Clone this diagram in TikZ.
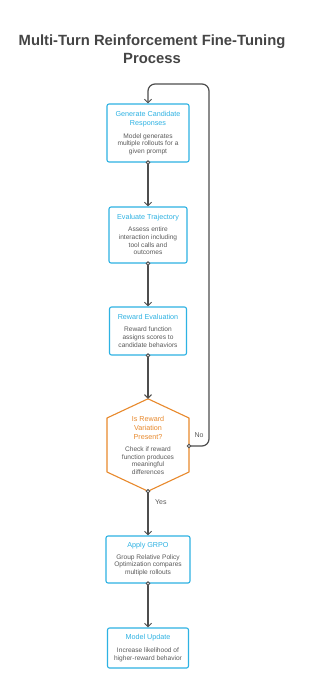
\documentclass[tikz,border=0pt]{standalone}
\usepackage{fontspec}
\setmainfont{Liberation Sans}
\usetikzlibrary{arrows.meta}
\definecolor{cy}{HTML}{2DB2E3}
\definecolor{orng}{HTML}{E8892C}
\definecolor{txt}{HTML}{5A5A5A}
\definecolor{ln}{HTML}{4D4D4D}
\definecolor{ttl}{HTML}{454545}
\tikzset{
  boxst/.style={draw=cy, line width=1.1pt, rounded corners=2pt, fill=white, inner sep=0pt},
  hexref/.style={inner sep=0pt, minimum width=83pt, minimum height=92pt},
  hexst/.style={draw=orng, line width=1.1pt, line join=round, fill=white},
  ttext/.style={inner sep=0pt, align=center, text=cy, font=\fontsize{7.2}{8.7}\selectfont},
  otext/.style={inner sep=0pt, align=center, text=orng, font=\fontsize{7.2}{8.7}\selectfont},
  btext/.style={inner sep=0pt, align=center, text=txt, font=\fontsize{6.6}{7.7}\selectfont},
  conn/.style={draw=ln, line width=1.2pt, -{Straight Barb[length=3.5pt,width=7pt,line width=1pt]}},
  dot/.style={draw=ln, line width=0.9pt, fill=white},
  lbl/.style={inner sep=0pt, text=txt, font=\fontsize{7}{8}\selectfont},
}
\begin{document}
\begin{tikzpicture}[x=1pt,y=-1pt]
\useasboundingbox[fill=white] (0,0) rectangle (309,675);
\node[inner sep=0pt, align=center, text=ttl, font=\fontsize{14.8}{18}\selectfont\bfseries] (title) at (152,49.5) {Multi-Turn Reinforcement Fine-Tuning\\Process};

% boxes
\node[boxst, minimum width=82pt, minimum height=58pt] (b1) at (148,133) {};
\node[boxst, minimum width=78pt, minimum height=56pt] (b2) at (148,235) {};
\node[boxst, minimum width=77pt, minimum height=48pt] (b3) at (148,331) {};
\node[hexref] (hx) at (148,445) {};
\draw[hexst] (hx.north) -- (189,418) -- (189,472) -- (hx.south) -- (107,472) -- (107,418) -- cycle;
\node[boxst, minimum width=84pt, minimum height=47pt] (b5) at (148,559.5) {};
\node[boxst, minimum width=81pt, minimum height=40pt] (b6) at (148,648) {};

% texts
\node[ttext] (t1) at (148,119) {Generate Candidate\\Responses};
\node[btext] (d1) at (148,144) {Model generates\\multiple rollouts for a\\given prompt};
\node[ttext] (t2) at (148,217.7) {Evaluate Trajectory};
\node[btext] (d2) at (148,241) {Assess entire\\interaction including\\tool calls and\\outcomes};
\node[ttext] (t3) at (148,317.3) {Reward Evaluation};
\node[btext] (d3) at (148,337) {Reward function\\assigns scores to\\candidate behaviors};
\node[otext] (t4) at (148,428) {Is Reward\\Variation\\Present?};
\node[btext] (d4) at (148,460.7) {Check if reward\\function produces\\meaningful\\differences};
\node[ttext] (t5) at (148,545.7) {Apply GRPO};
\node[btext] (d5) at (148,565) {Group Relative Policy\\Optimization compares\\multiple rollouts};
\node[ttext] (t6) at (148,637.7) {Model Update};
\node[btext] (d6) at (148,655) {Increase likelihood of\\higher-reward behavior};

% connectors
\coordinate (hxe) at (189,446);
\coordinate (lr) at (209,446);
\coordinate (tr) at (209,84);
\coordinate (tl) at (148,84);
\draw[conn] (b1.south) -- (b2.north);
\draw[conn] (b2.south) -- (b3.north);
\draw[conn] (b3.south) -- (hx.north);
\draw[conn] (hx.south) -- (b5.north);
\draw[conn] (b5.south) -- (b6.north);
\draw[conn, rounded corners=7pt] (hxe) -- (lr) -- (tr) -- (tl) -- (b1.north);
\foreach \p in {b1.south, b2.south, b3.south, hx.south, b5.south, hxe}
  \draw[dot] (\p) circle (1.8pt);

\node[lbl, anchor=west] (yes) at (155,502) {Yes};
\node[lbl] (no) at (199,435) {No};
\end{tikzpicture}
\end{document}
